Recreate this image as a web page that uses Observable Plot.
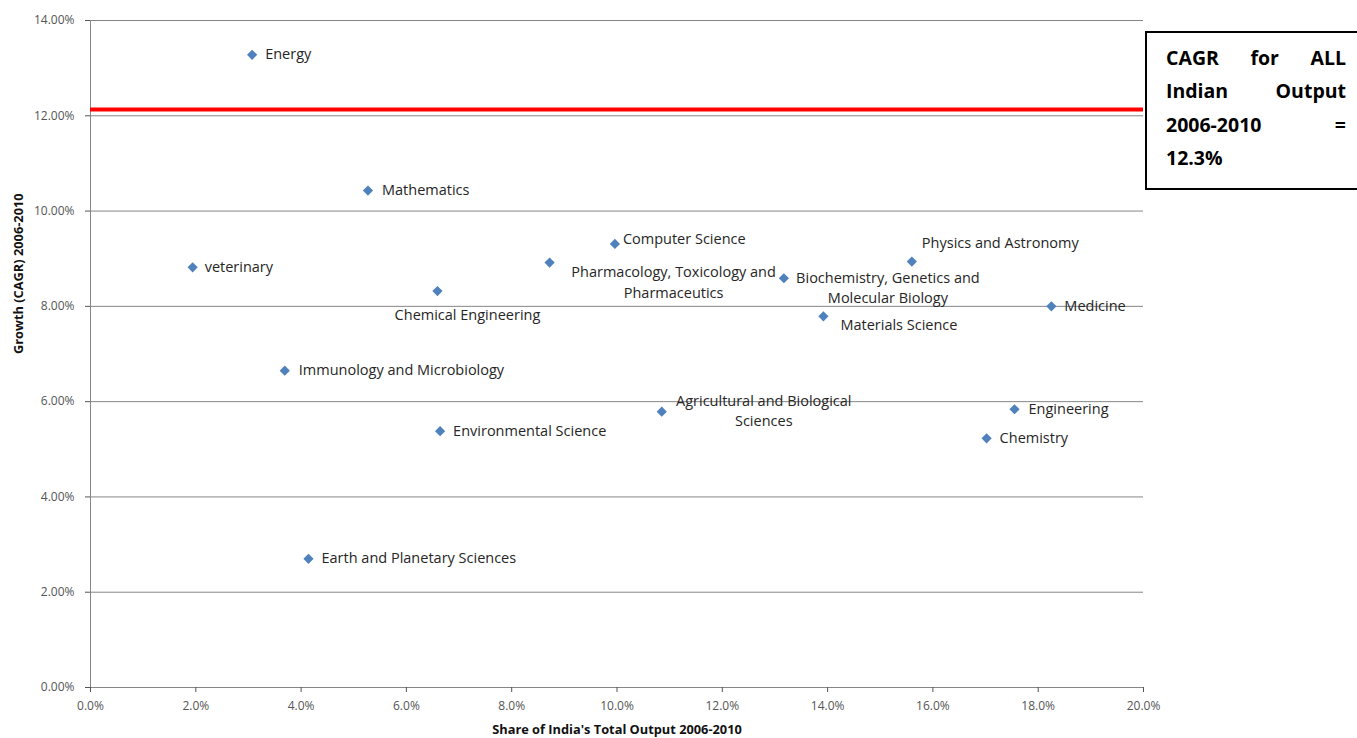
<!DOCTYPE html>
<html>
<head>
<meta charset="utf-8">
<script src="https://cdn.jsdelivr.net/npm/d3@7"></script>
<script src="https://cdn.jsdelivr.net/npm/@observablehq/plot@0.6"></script>
<style>
  html, body { margin: 0; padding: 0; overflow: hidden; background: #fff; }
  #wrap { position: relative; width: 1357px; height: 738px; }
  #box {
    position: absolute; left: 1145px; top: 31px; width: 240px; height: 159px;
    border: 2px solid #000; box-sizing: border-box; background: #fff;
    font-family: "Open Sans", sans-serif; font-weight: 700; font-size: 19.5px; color: #000;
    padding: 8px 0 0 19px;
  }
  #box .ln { width: 180px; height: 33.3px; line-height: 33.3px; display: flex; justify-content: space-between; }
</style>
</head>
<body>
<div id="wrap"></div>
<script>
// ---- data ----
const subjects = [
  "Energy", "Mathematics", "veterinary", "Chemical Engineering",
  "Pharmacology, Toxicology and\nPharmaceutics", "Computer Science",
  "Biochemistry, Genetics and\nMolecular Biology", "Physics and Astronomy",
  "Materials Science", "Medicine", "Immunology and Microbiology",
  "Agricultural and Biological\nSciences", "Environmental Science",
  "Engineering", "Chemistry", "Earth and Planetary Sciences"
];
const share  = [3.07, 5.27, 1.94, 6.59, 8.72, 9.96, 13.17, 15.60, 13.92, 18.25, 3.69, 10.85, 6.64, 17.55, 17.02, 4.14];
const growth = [13.28, 10.43, 8.82, 8.32, 8.92, 9.31, 8.59, 8.94, 7.79, 8.00, 6.65, 5.79, 5.38, 5.84, 5.23, 2.70];
const allIndiaLine = 12.13;
const xTicks = [0, 2, 4, 6, 8, 10, 12, 14, 16, 18, 20];
const yTicks = [0, 2, 4, 6, 8, 10, 12, 14];
const xTitle = "Share of India's Total Output 2006-2010";
const yTitle = "Growth (CAGR) 2006-2010";
const boxLines = [["CAGR", "for", "ALL"], ["Indian", "Output"], ["2006-2010", "="], ["12.3%"]];

// ---- label placement (style, not data) ----
const place = {
  "Energy": {dx: 13, dy: 0, anchor: "start"},
  "Mathematics": {dx: 14, dy: 0, anchor: "start"},
  "veterinary": {dx: 12, dy: 0, anchor: "start"},
  "Chemical Engineering": {dx: 30, dy: 24, anchor: "middle"},
  "Pharmacology, Toxicology and\nPharmaceutics": {dx: 124, dy: 20.5, anchor: "middle"},
  "Computer Science": {dx: 8, dy: -4, anchor: "start"},
  "Biochemistry, Genetics and\nMolecular Biology": {dx: 104, dy: 10, anchor: "middle"},
  "Physics and Astronomy": {dx: 10, dy: -18, anchor: "start"},
  "Materials Science": {dx: 17, dy: 9, anchor: "start"},
  "Medicine": {dx: 13, dy: 0, anchor: "start"},
  "Immunology and Microbiology": {dx: 14, dy: 0, anchor: "start"},
  "Agricultural and Biological\nSciences": {dx: 102, dy: 0, anchor: "middle"},
  "Environmental Science": {dx: 13, dy: 0, anchor: "start"},
  "Engineering": {dx: 14, dy: 0, anchor: "start"},
  "Chemistry": {dx: 13, dy: 0, anchor: "start"},
  "Earth and Planetary Sciences": {dx: 13, dy: 0, anchor: "start"}
};

const data = subjects.map((s, i) => ({name: s, x: share[i], y: growth[i]}));
const gridColor = "#868686";
const labelFont = "Open Sans, sans-serif";

const labelMarks = data.map(d => {
  const p = place[d.name];
  return Plot.text([d], {
    x: "x", y: "y", text: "name", dx: p.dx, dy: p.dy - 2, textAnchor: p.anchor,
    lineHeight: 1.4, fontSize: 14.5, fill: "#262626", fontFamily: labelFont
  });
});

const chart = Plot.plot({
  width: 1357, height: 738,
  marginLeft: 90, marginRight: 214, marginTop: 20, marginBottom: 51,
  style: {fontFamily: labelFont, background: "#fff", overflow: "visible"},
  x: {domain: [0, 20]},
  y: {domain: [0, 14]},
  marks: [
    Plot.ruleY(yTicks.filter(v => v > 0), {stroke: gridColor, strokeWidth: 1}),
    Plot.ruleX([0], {stroke: gridColor}),
    Plot.ruleY([0], {stroke: gridColor}),
    Plot.ruleY([allIndiaLine], {stroke: "#ff0000", strokeWidth: 4}),
    Plot.axisX({ticks: xTicks, tickFormat: d => d.toFixed(1) + "%", tickSize: 5, tickPadding: 9,
      fontSize: 12, color: "#555", label: null}),
    Plot.axisY({ticks: yTicks, tickFormat: d => d.toFixed(2) + "%", tickSize: 5, tickPadding: 11,
      fontSize: 12, color: "#555", label: null}),
    Plot.dot(data, {x: "x", y: "y", symbol: "diamond2", r: 4.6, fill: "#4f81bd", stroke: "none"}),
    ...labelMarks,
    Plot.text([xTitle], {frameAnchor: "bottom", dy: 46, text: d => d, fontSize: 12.8, fontWeight: "bold", fill: "#111"}),
    Plot.text([yTitle], {frameAnchor: "left", dx: -72, rotate: -90, text: d => d, fontSize: 12.8, fontWeight: "bold", fill: "#111"})
  ]
});

const wrap = document.getElementById("wrap");
wrap.appendChild(chart);

const box = document.createElement("div");
box.id = "box";
boxLines.forEach(words => {
  const ln = document.createElement("div");
  ln.className = "ln";
  words.forEach(w => { const s = document.createElement("span"); s.textContent = w; ln.appendChild(s); });
  box.appendChild(ln);
});
wrap.appendChild(box);
</script>
</body>
</html>
